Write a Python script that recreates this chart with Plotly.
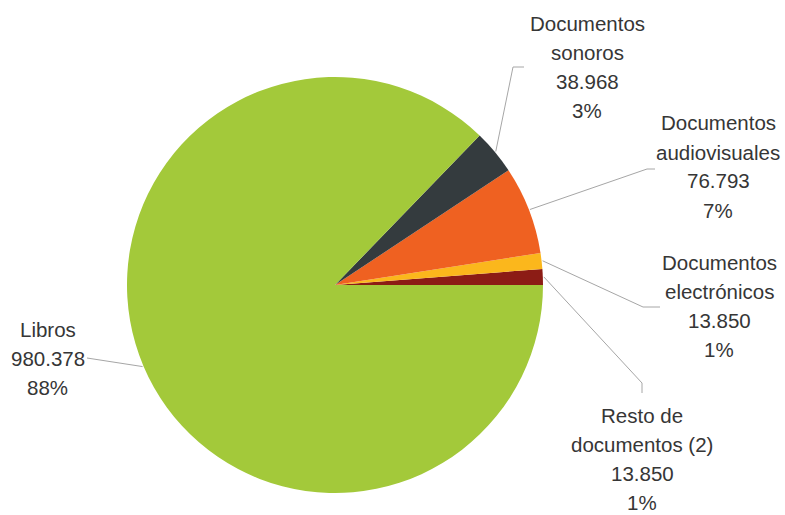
import math
import plotly.graph_objects as go

# ---- data ----
categories = ["Resto de documentos (2)", "Documentos electrónicos",
              "Documentos audiovisuales", "Documentos sonoros", "Libros"]
values = [13850, 13850, 76793, 38968, 980378]
pct_labels = ["1%", "1%", "7%", "3%", "88%"]
label_lines = [
    ["Resto de", "documentos (2)"],
    ["Documentos", "electrónicos"],
    ["Documentos", "audiovisuales"],
    ["Documentos", "sonoros"],
    ["Libros"],
]
colors = ["#8c1c15", "#fbb71c", "#ef6121", "#343b3e", "#a3c93a"]

W, H = 785, 515
CX, CY, R = 335, 285, 208

# label layout (pixel positions): center x, first-line y, elbow point(s)
label_pos = [
    (642, 415, [(642, 383), (642, 393)]),
    (719, 262, [(643, 307), (660, 307)]),
    (718, 123, [(647, 169), (655, 169)]),
    (587, 23, [(513, 67), (524, 67)]),
    (47.5, 329, [(87, 358)]),
]
LINE_H = 29.0


def px(x):
    return x / W


def py(y):
    return 1 - y / H


total = sum(values)
# plotly places the END of the first slice at `rotation` when counterclockwise
rot = 90 - 360.0 * values[0] / total

fig = go.Figure()
fig.add_trace(go.Pie(
    labels=categories, values=values, sort=False, direction="counterclockwise",
    rotation=rot, textinfo="none", hoverinfo="label+value",
    marker=dict(colors=colors, line=dict(width=0)),
    domain=dict(x=[px(CX - R), px(CX + R)], y=[py(CY + R), py(CY - R)]),
    showlegend=False,
))

cum = 0
shapes = []
annotations = []
for i, v in enumerate(values):
    mid = 2 * math.pi * (cum + v / 2) / total
    cum += v
    ex = CX + (R + 1) * math.cos(mid)
    ey = CY - (R + 1) * math.sin(mid)
    lx, ly, pts = label_pos[i]
    path = "M {} {}".format(px(ex), py(ey))
    for (qx, qy) in pts:
        path += " L {} {}".format(px(qx), py(qy))
    shapes.append(dict(type="path", xref="paper", yref="paper", path=path,
                       line=dict(color="#a6a6a6", width=1)))
    lines = label_lines[i] + ["{:,}".format(v).replace(",", "."), pct_labels[i]]
    for k, t in enumerate(lines):
        annotations.append(dict(
            x=px(lx), y=py(ly + k * LINE_H), xref="paper", yref="paper",
            text=t, showarrow=False, xanchor="center", yanchor="middle",
            font=dict(family="Liberation Sans, Arial, sans-serif", size=20.5,
                      color="#363636")))

fig.update_layout(
    width=W, height=H, margin=dict(l=0, r=0, t=0, b=0),
    paper_bgcolor="white", plot_bgcolor="white",
    shapes=shapes, annotations=annotations,
)
fig.write_html("out.html", config={"displayModeBar": False},
               post_script="document.body.style.margin='0';document.body.style.overflow='hidden';")
